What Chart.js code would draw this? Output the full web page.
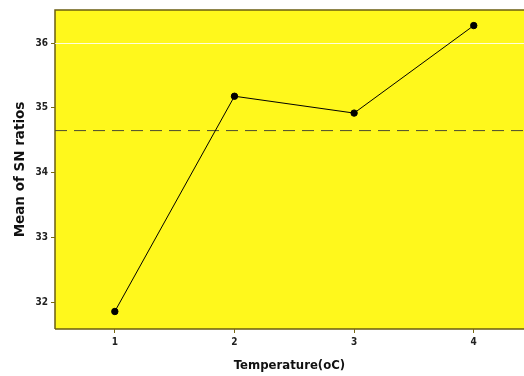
<!DOCTYPE html>
<html><head><meta charset="utf-8">
<script src="https://cdn.jsdelivr.net/npm/chart.js@4"></script>
<style>html,body{margin:0;padding:0;background:#fff;overflow:hidden}#w{width:529px;height:376px}</style>
</head><body><div id="w"><canvas id="c" width="529" height="376"></canvas></div>
<script>
const categories = [1, 2, 3, 4];
const meanSN = [31.86, 35.18, 34.92, 36.27];
const overallMean = 34.65;
const yTicks = [32, 33, 34, 35, 36];
const xTicks = [1, 2, 3, 4];

const bgPlugin = {
  id: 'bg',
  beforeDraw(chart) {
    const {ctx, chartArea: a} = chart;
    ctx.save();
    ctx.fillStyle = '#fff81c';
    ctx.fillRect(a.left, a.top, a.right - a.left, a.bottom - a.top);
    ctx.strokeStyle = '#6b5e10';
    ctx.lineWidth = 1.5;
    ctx.beginPath();
    ctx.moveTo(a.left, a.bottom); ctx.lineTo(a.left, a.top); ctx.lineTo(a.right, a.top);
    ctx.moveTo(a.left, a.bottom); ctx.lineTo(a.right, a.bottom);
    ctx.stroke();
    ctx.restore();
  }
};

const tickFont = {family: "'Liberation Sans Narrow','DejaVu Sans Condensed',sans-serif", size: 10, weight: 'bold'};

new Chart(document.getElementById('c'), {
  type: 'line',
  data: {
    datasets: [
      {
        data: categories.map((c, i) => ({x: c, y: meanSN[i]})),
        borderColor: '#000', borderWidth: 1, pointRadius: 3.2,
        pointBackgroundColor: '#000', pointBorderColor: '#000', tension: 0
      },
      {
        data: [{x: 0.5, y: overallMean}, {x: 4.42, y: overallMean}],
        borderColor: '#4a4a30', borderWidth: 1, borderDash: [12, 7],
        pointRadius: 0
      }
    ]
  },
  options: {
    responsive: false, animation: false,
    layout: {padding: {top: 10, right: 0, left: 0, bottom: 0}},
    plugins: {legend: {display: false}, tooltip: {enabled: false}},
    scales: {
      x: {
        type: 'linear', min: 0.5, max: 4.42,
        afterBuildTicks: s => { s.ticks = xTicks.map(v => ({value: v})); },
        afterFit: s => { s.height = 47; },
        grid: {display: true, drawOnChartArea: false, drawTicks: true, tickLength: 4, color: '#7a6a10'},
        border: {display: false},
        ticks: {color: '#222', font: tickFont, padding: 3, callback: v => String(v)},
        title: {display: true, text: 'Temperature(oC)', color: '#111',
          font: {family: "'Liberation Sans Narrow','DejaVu Sans Condensed',sans-serif", size: 13, weight: 'bold'},
          padding: {top: 0, bottom: 3}}
      },
      y: {
        min: 31.59, max: 36.51,
        afterBuildTicks: s => { s.ticks = yTicks.map(v => ({value: v})); },
        afterFit: s => { s.width = 55; },
        grid: {
          drawTicks: true, tickLength: 4,
          color: c => (c.tick && c.tick.value === 36) ? 'rgba(255,255,255,0.85)' : 'rgba(0,0,0,0)',
          tickColor: '#7a6a10'
        },
        border: {display: false},
        ticks: {color: '#222', font: tickFont, padding: 3, callback: v => String(v)},
        title: {display: true, text: 'Mean of SN ratios', color: '#111',
          font: {family: "'DejaVu Sans',sans-serif", size: 13.5, weight: 'bold'},
          padding: {top: 12, bottom: 6}}
      }
    }
  },
  plugins: [bgPlugin]
});
</script>
</body></html>
